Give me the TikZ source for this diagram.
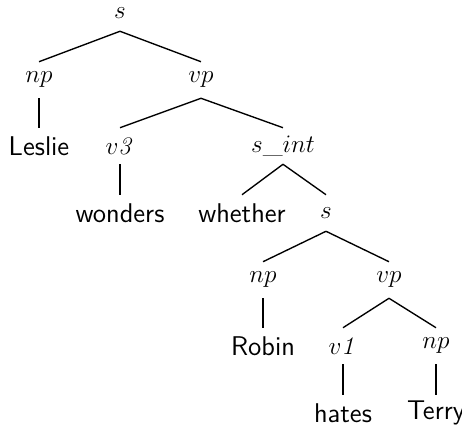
\documentclass[tikz,border=0pt]{standalone}
\usepackage{tikz}
\usetikzlibrary{positioning}

\begin{document}
\begin{tikzpicture}[x=0.476pt,y=-0.476pt,
  cat/.style={inner sep=0pt,minimum height=17pt,font=\fontsize{12.9pt}{15pt}\selectfont},
  word/.style={cat,font=\fontsize{12.9pt}{15pt}\selectfont\sffamily},
  br/.style={line width=0.65pt}]
\useasboundingbox (0,0) rectangle (462,429);
% top level
\node[cat] (s) at (120,13) {$s$};
\node[cat] (np) at (39,80) {$np$};
\node[cat] (vp) at (201,80) {$vp$};
\node[word] (leslie) at (39,146) {Leslie};
\node[cat] (v3) at (120,146) {$v\mathit{3}$};
\node[cat] (sint) at (283,146) {$s\textunderscore int$};
\node[word] (wonders) at (120,213) {wonders};
\node[word] (whether) at (242,213) {whether};
\node[cat] (s2) at (326,213) {$s$};
% embedded clause
\node[cat] (np2) at (263,280) {$np$};
\node[cat] (vp2) at (389,280) {$vp$};
\node[word] (robin) at (263,346) {Robin};
\node[cat] (v1) at (343,346) {$v\mathit{1}$};
\node[cat] (np3) at (436,346) {$np$};
\node[word] (hates) at (343,413) {hates};
\node[word] (terry) at (436,413) {Terry};
\draw[br](s.south)--(np.north);\draw[br](s.south)--(vp.north);
\draw[br](np.south)--(leslie.north);
\draw[br](vp.south)--(v3.north);\draw[br](vp.south)--(sint.north);
\draw[br](v3.south)--(wonders.north);
\draw[br](sint.south)--(whether.north);\draw[br](sint.south)--(s2.north);
\draw[br](s2.south)--(np2.north);\draw[br](s2.south)--(vp2.north);
\draw[br](np2.south)--(robin.north);
\draw[br](vp2.south)--(v1.north);\draw[br](vp2.south)--(np3.north);
\draw[br](v1.south)--(hates.north);
\draw[br](np3.south)--(terry.north);
\end{tikzpicture}
\end{document}
